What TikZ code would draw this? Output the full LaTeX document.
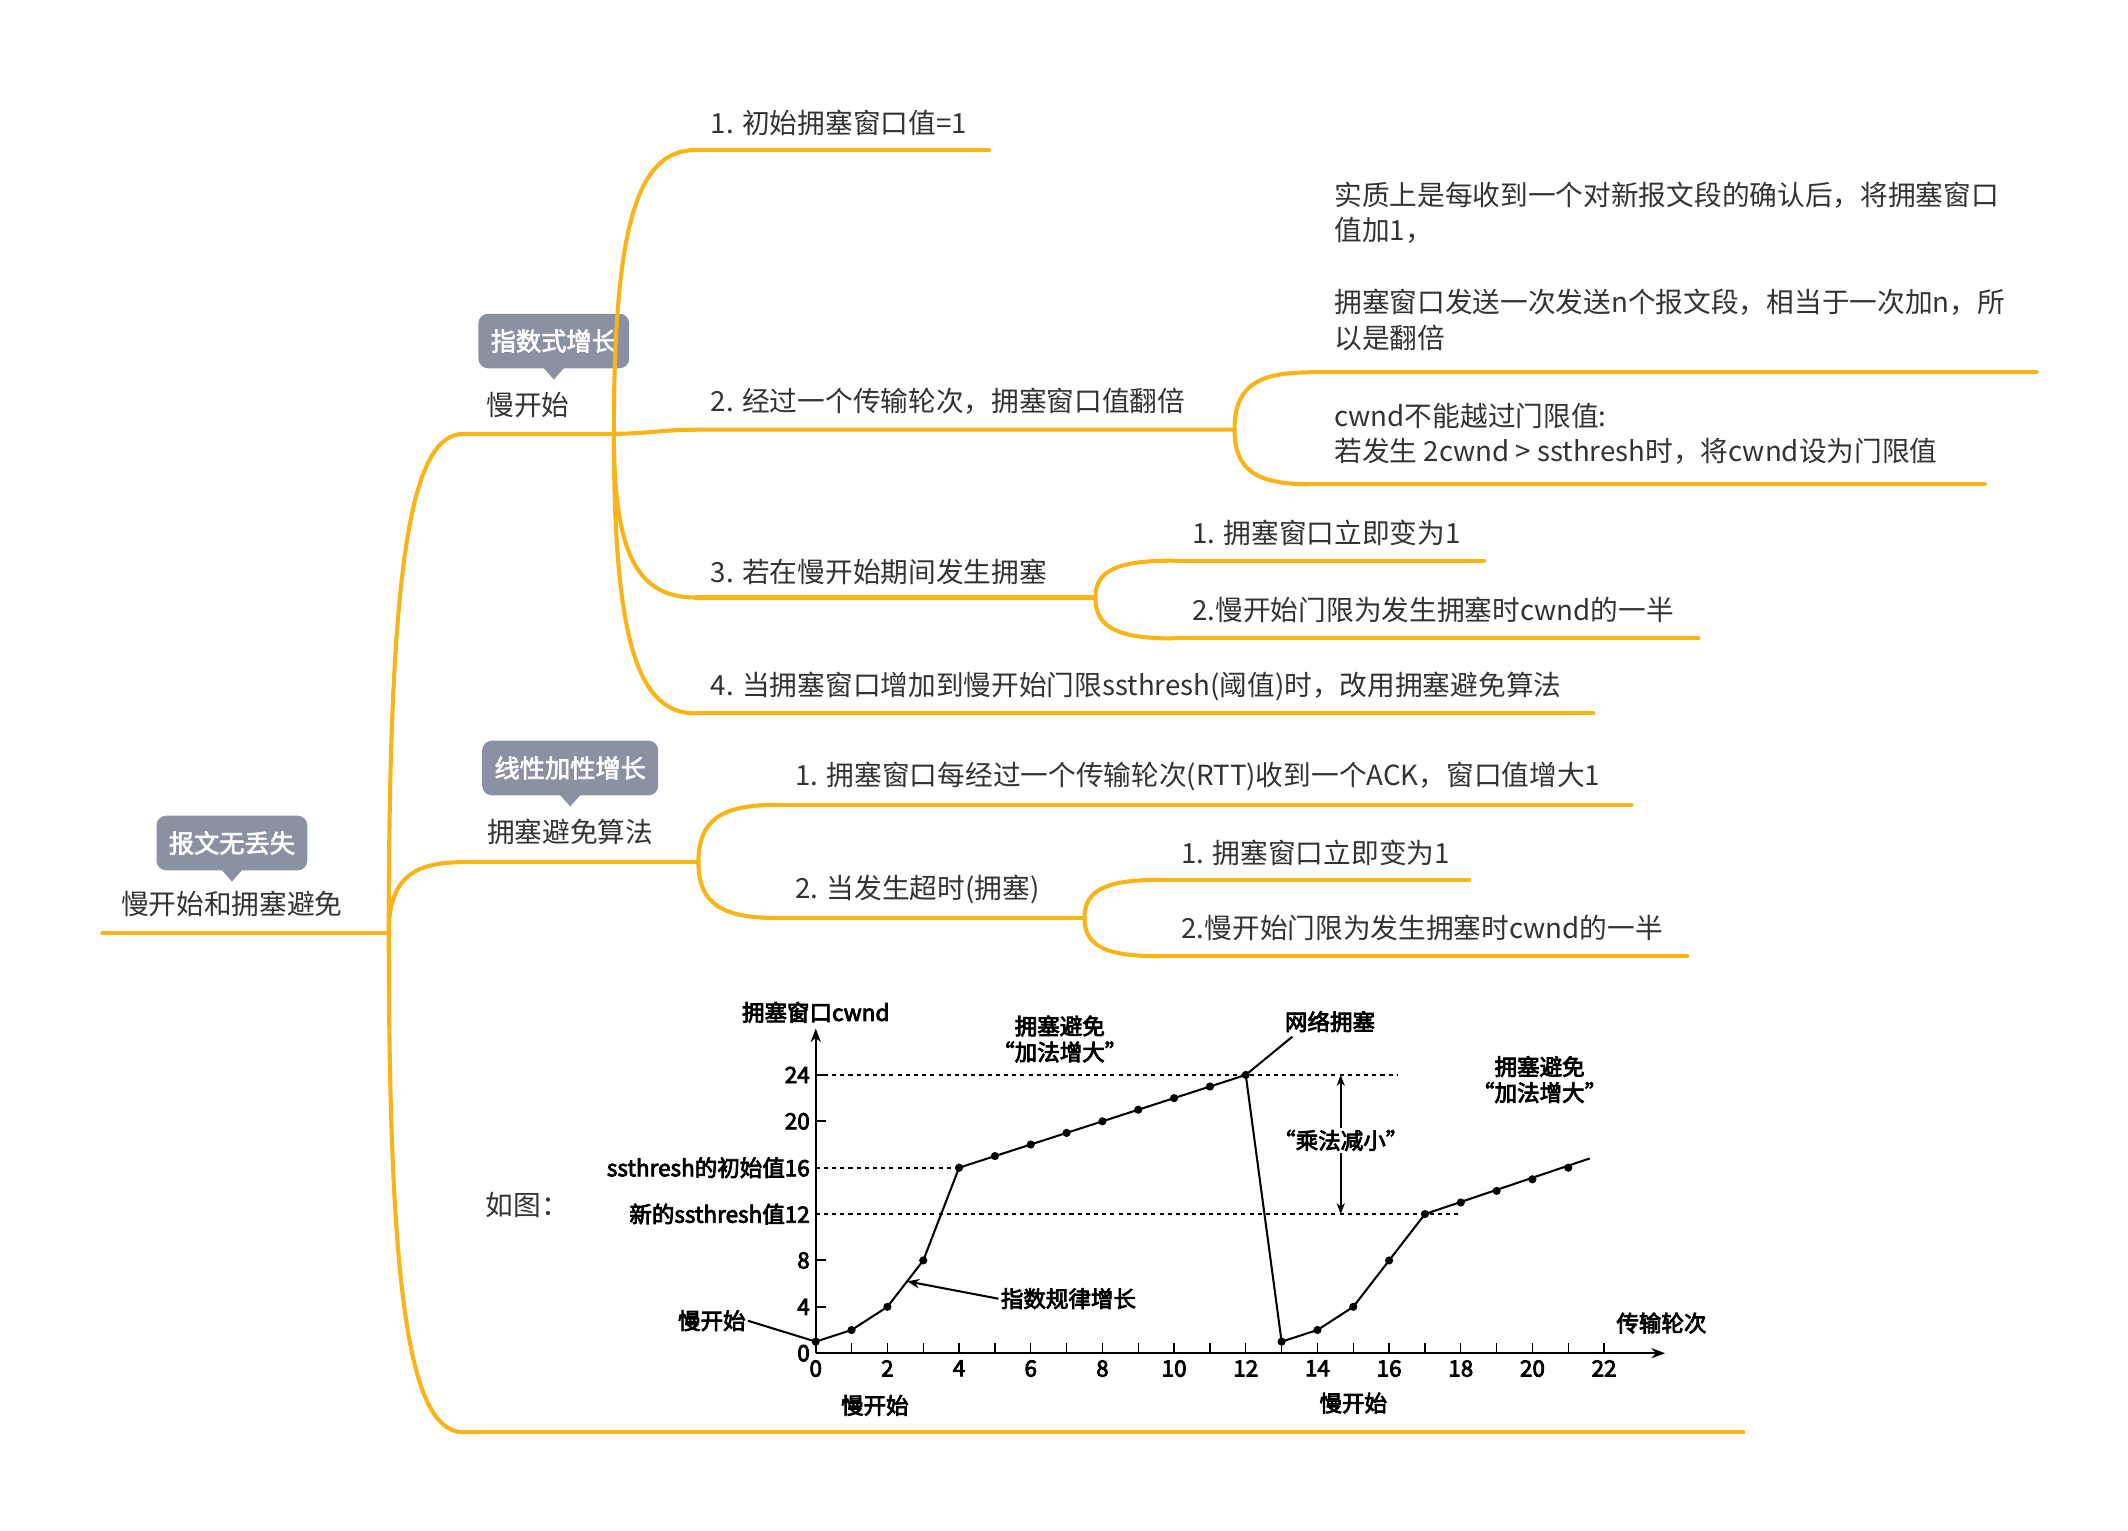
\documentclass[tikz,border=0pt]{standalone}
\usepackage{fontspec}
\setmainfont{Noto Sans CJK SC}
\newfontfamily\boldcjk[FakeBold=2.5]{Noto Sans CJK SC}
\newfontfamily\chartcjk[FakeBold=3.5]{Noto Sans CJK SC}
\usetikzlibrary{arrows.meta,calc}
\definecolor{branch}{HTML}{FBB417}
\definecolor{txt}{HTML}{333333}
\definecolor{tagbg}{HTML}{8991A3}
\tikzset{
  br/.style={draw=branch,line width=3pt,line cap=round},
  lbl/.style={anchor=west,inner sep=0pt,text=txt,font=\fontsize{20.3}{26}\selectfont},
  tagbox/.style={fill=tagbg,rounded corners=7pt,text=white,font=\boldcjk\fontsize{18.5}{20}\selectfont,minimum height=40pt,inner xsep=9pt},
  ch/.style={font=\chartcjk\fontsize{16.5}{19}\selectfont,inner sep=1pt},
}
\newcommand{\tagat}[3]{\node[tagbox] (#1) at (#2) {#3};
  \fill[tagbg] ($(#1.south)+(-8pt,1pt)$) -- ($(#1.south)+(8pt,1pt)$) -- ($(#1.south)+(0,-8pt)$) -- cycle;}
% curved branch from #1 to #2
\newcommand{\brc}[2]{\draw[br] let \p1=(#1),\p2=(#2) in (#1) .. controls (\x1, {\y1+0.75*(\y2-\y1)}) and ({\x1+0.3*(\x2-\x1)}, \y2) .. (#2);}
\begin{document}
\begin{tikzpicture}[x=1pt,y=-1pt]
\useasboundingbox (0,0) rectangle (1560,1122);
% root
\coordinate (r0) at (75,684); \coordinate (r1) at (285,684);
\draw[br] (r0) -- (r1);
\node[lbl,anchor=center] (rt) at (170,663) {慢开始和拥塞避免};
\tagat{tr}{170,618}{报文无丢失}
% level 1
\coordinate (s0) at (340,318); \coordinate (s1) at (450,318);
\coordinate (c0) at (340,632); \coordinate (c1) at (512,632);
\coordinate (f0) at (340,1050); \coordinate (f1) at (1278,1050);
\brc{r1}{s0} \draw[br] (s0) -- (s1);
\brc{r1}{c0} \draw[br] (c0) -- (c1);
\brc{r1}{f0} \draw[br] (f0) -- (f1);
\node[lbl,anchor=center] (ts) at (387,297) {慢开始};
\tagat{tgs}{406,250}{指数式增长}
\node[lbl,anchor=center] (tc) at (418,610) {拥塞避免算法};
\tagat{tgc}{418,563}{线性加性增长}
\node[lbl] (tf) at (356,883) {如图：};
% slow start children
\coordinate (a1) at (510,110); \coordinate (a1e) at (725,110);
\coordinate (a2) at (510,315); \coordinate (a2e) at (905,315);
\coordinate (a3) at (510,438); \coordinate (a3e) at (803,438);
\coordinate (a4) at (510,523); \coordinate (a4e) at (1168,523);
\brc{s1}{a1} \draw[br] (a1) -- (a1e);
\draw[br] (s1) to[out=0,in=180] (a2) -- (a2e);
\brc{s1}{a3} \draw[br] (a3) -- (a3e);
\brc{s1}{a4} \draw[br] (a4) -- (a4e);
\node[lbl] (ta1) at (521,90) {1. 初始拥塞窗口值=1};
\node[lbl] (ta2) at (521,294) {2. 经过一个传输轮次，拥塞窗口值翻倍};
\node[lbl] (ta3) at (521,419) {3. 若在慢开始期间发生拥塞};
\node[lbl] (ta4) at (521,503) {4. 当拥塞窗口增加到慢开始门限ssthresh(阈值)时，改用拥塞避免算法};
% a2 children
\coordinate (b1) at (960,273); \coordinate (b1e) at (1493,273);
\coordinate (b2) at (960,355); \coordinate (b2e) at (1455,355);
\brc{a2e}{b1} \draw[br] (b1) -- (b1e);
\brc{a2e}{b2} \draw[br] (b2) -- (b2e);
\node[lbl,anchor=north west,align=left] (tb1) at (978,133) {实质上是每收到一个对新报文段的确认后，将拥塞窗口\\值加1，\\[27pt]拥塞窗口发送一次发送n个报文段，相当于一次加n，所\\以是翻倍};
\node[lbl,anchor=north west,align=left] (tb2) at (978,295) {cwnd不能越过门限值:\\若发生 2cwnd > ssthresh时，将cwnd设为门限值};
% a3 children
\coordinate (d1) at (860,411); \coordinate (d1e) at (1088,411);
\coordinate (d2) at (860,468); \coordinate (d2e) at (1245,468);
\brc{a3e}{d1} \draw[br] (d1) -- (d1e);
\brc{a3e}{d2} \draw[br] (d2) -- (d2e);
\node[lbl] (td1) at (874,391) {1. 拥塞窗口立即变为1};
\node[lbl] (td2) at (874,447) {2.慢开始门限为发生拥塞时cwnd的一半};
% CA children
\coordinate (e1) at (570,590); \coordinate (e1e) at (1196,590);
\coordinate (e2) at (570,673); \coordinate (e2e) at (795,673);
\brc{c1}{e1} \draw[br] (e1) -- (e1e);
\brc{c1}{e2} \draw[br] (e2) -- (e2e);
\node[lbl] (te1) at (583,569) {1. 拥塞窗口每经过一个传输轮次(RTT)收到一个ACK，窗口值增大1};
\node[lbl] (te2) at (583,652) {2. 当发生超时(拥塞)};
\coordinate (g1) at (850,645); \coordinate (g1e) at (1077,645);
\coordinate (g2) at (850,701); \coordinate (g2e) at (1237,701);
\brc{e2e}{g1} \draw[br] (g1) -- (g1e);
\brc{e2e}{g2} \draw[br] (g2) -- (g2e);
\node[lbl] (tg1) at (866,625) {1. 拥塞窗口立即变为1};
\node[lbl] (tg2) at (866,680) {2.慢开始门限为发生拥塞时cwnd的一半};
% chart
\begin{scope}[shift={(598pt,-992pt)},x=26.27pt,y=8.5pt,line width=1.5pt]
  \coordinate (o) at (0,0);
  \coordinate (xe) at (23.7,0); \coordinate (ye) at (0,28);
  \draw[-{Stealth[length=10pt]}] (o) -- (xe);
  \draw[-{Stealth[length=10pt]}] (o) -- (ye);
  \foreach \i in {1,...,22} \draw[line width=1pt] (\i,0) -- (\i,0.9);
  \foreach \i in {0,2,...,22} \node[ch,anchor=north] at (\i,-0.4) {\i};
  \foreach \v in {24,20,8,4} {\draw (0,\v) -- (0.3,\v); \node[ch,anchor=east] at (-0.1,\v) {\v};}
  \node[ch,anchor=east] at (-0.1,0) {0};
  \node[ch,anchor=east] at (-0.1,16) {ssthresh的初始值16};
  \node[ch,anchor=east] at (-0.1,12) {新的ssthresh值12};
  \draw[dashed,line width=1.4pt] (0,24) -- (16.25,24);
  \draw[dashed,line width=1.4pt] (0,16) -- (4,16);
  \draw[dashed,line width=1.4pt] (0,12) -- (18,12);
  \draw (0,1) -- (1,2) -- (2,4) -- (3,8) -- (4,16) -- (12,24) -- (13,1) -- (14,2) -- (15,4) -- (16,8) -- (17,12) -- (21.6,16.8);
  \foreach \p in {(0,1),(1,2),(2,4),(3,8),(4,16),(5,17),(6,18),(7,19),(8,20),(9,21),(10,22),(11,23),(12,24),(13,1),(14,2),(15,4),(16,8),(17,12),(18,13),(19,14),(20,15),(21,16)} \fill \p circle[radius=3pt];
  \node[ch] (yl) at (0,29.4) {拥塞窗口cwnd};
  \node[ch,align=center] (ca1) at (6.81,27.1) {拥塞避免\\“加法增大”};
  \node[ch] (nc) at (14.35,28.6) {网络拥塞};
  \draw (12,24) -- (13.3,27.3);
  \node[ch,align=center] (ca2) at (20.2,23.6) {拥塞避免\\“加法增大”};
  \node[ch,fill=white] (md) at (14.65,18.35) {“乘法减小”};
  \draw[-{Stealth[length=8pt]}] (md.north) -- (14.65,24);
  \draw[-{Stealth[length=8pt]}] (md.south) -- (14.65,12);
  \node[ch,anchor=west] (ex) at (5.1,4.7) {指数规律增长};
  \draw[-{Stealth[length=9pt]}] (ex.west) -- (2.55,6.2);
  \node[ch] (ss1) at (-2.9,2.8) {慢开始};
  \draw (ss1.east) -- (0,1);
  \node[ch] (xl) at (23.6,2.6) {传输轮次};
  \node[ch] (ss2) at (1.65,-4.5) {慢开始};
  \node[ch] (ss3) at (15.0,-4.3) {慢开始};
\end{scope}
\end{tikzpicture}
\end{document}
